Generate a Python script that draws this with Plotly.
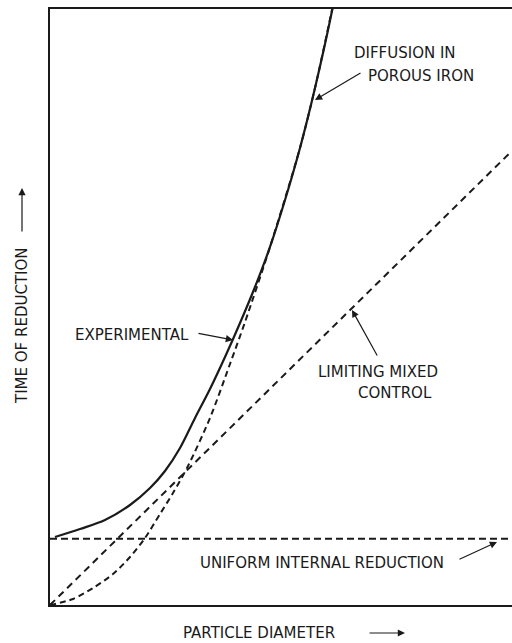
import plotly.graph_objects as go

# ---- data (arbitrary units: particle diameter 0-10, time of reduction 0-10) ----
exp_diameter = [0.108, 0.649, 1.190, 1.732, 2.165, 2.489, 2.814, 3.139, 3.463, 3.788,
                4.113, 4.437, 4.762, 5.087, 5.411, 5.736, 6.104, 6.190]
exp_time = [1.141, 1.275, 1.426, 1.678, 1.963, 2.248, 2.634, 3.138, 3.624, 4.161,
            4.732, 5.336, 6.007, 6.795, 7.668, 8.674, 9.966, 10.319]

diff_diameter = [0.0, 0.498, 0.931, 1.364, 1.732, 2.056, 2.381, 2.662, 2.987, 3.463,
                 3.896, 4.221, 4.762, 5.411, 5.736, 6.126]
diff_time = [0.0, 0.101, 0.285, 0.520, 0.805, 1.124, 1.527, 1.879, 2.332, 3.138,
             4.044, 4.748, 6.007, 7.668, 8.674, 10.067]

mixed_diameter = [0.0, 10.0]
mixed_time = [0.0, 7.62]

uniform_diameter = [0.0, 10.0]
uniform_time = [1.11, 1.11]

# ---- layout geometry (page pixels) ----
W, H = 512, 643
L, R, T, B = 50, 0, 9, 38
PW, PH = W - L - R, H - T - B


def xp(px):
    return (px - L) / PW


def yp(py):
    return (H - B - py) / PH


INK = "#1a1a1a"
FONT = dict(family="DejaVu Sans", size=15, color=INK)

fig = go.Figure()
fig.add_trace(go.Scatter(x=uniform_diameter, y=uniform_time, mode="lines",
                         line=dict(color=INK, width=2, dash="7px,4px"), showlegend=False))
fig.add_trace(go.Scatter(x=mixed_diameter, y=mixed_time, mode="lines",
                         line=dict(color=INK, width=2, dash="7px,5px"), showlegend=False))
fig.add_trace(go.Scatter(x=diff_diameter, y=diff_time, mode="lines", line_shape="spline",
                         line=dict(color=INK, width=2, dash="6px,4px", smoothing=0.8), showlegend=False))
fig.add_trace(go.Scatter(x=exp_diameter, y=exp_time, mode="lines", line_shape="spline",
                         line=dict(color=INK, width=2.2, smoothing=0.9), showlegend=False))

annotations = []
texts = [
    ("DIFFUSION IN", 352, 53),
    ("POROUS IRON", 366, 76),
    ("EXPERIMENTAL", 73, 335),
    ("LIMITING MIXED", 316, 372),
    ("CONTROL", 356, 393),
    ("UNIFORM INTERNAL REDUCTION", 198, 563),
    ("PARTICLE DIAMETER", 181, 633),
]
for t, x, y in texts:
    annotations.append(dict(text=t, x=xp(x), y=yp(y), xref="paper", yref="paper",
                            xanchor="left", yanchor="middle", showarrow=False, font=FONT))
annotations.append(dict(text="TIME OF REDUCTION", x=xp(22), y=yp(326), xref="paper", yref="paper",
                        xanchor="center", yanchor="middle", textangle=-90, showarrow=False, font=FONT))

arrows = [
    ((362, 72), (315, 100)),
    ((197, 333), (233, 340)),
    ((378, 357), (352, 310)),
    ((458, 560), (497, 542)),
    ((368, 633), (405, 633)),
    ((22, 233), (22, 188)),
]
for (tx, ty), (hx, hy) in arrows:
    annotations.append(dict(text="", x=xp(hx), y=yp(hy), xref="paper", yref="paper",
                            ax=tx - hx, ay=ty - hy, axref="pixel", ayref="pixel",
                            showarrow=True, arrowhead=2, arrowsize=1.2, arrowwidth=1.2,
                            arrowcolor=INK, standoff=0, startstandoff=0))

fig.update_layout(
    width=W, height=H,
    margin=dict(l=L, r=R, t=T, b=B),
    paper_bgcolor="white", plot_bgcolor="white",
    annotations=annotations,
    hovermode=False,
    xaxis=dict(range=[0, 10], showgrid=False, zeroline=False, showticklabels=False, ticks="",
               showline=True, linecolor=INK, linewidth=1.6, mirror=True),
    yaxis=dict(range=[0, 10], showgrid=False, zeroline=False, showticklabels=False, ticks="",
               showline=True, linecolor=INK, linewidth=1.6),
)

fig.write_html("out.html", config={"displayModeBar": False},
               post_script="document.body.style.margin='0';document.body.style.overflow='hidden';")
